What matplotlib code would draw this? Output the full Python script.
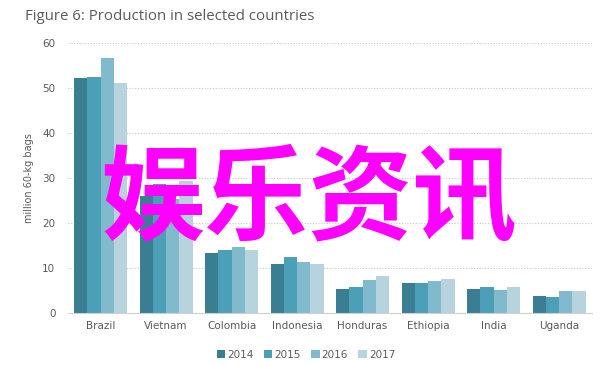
import numpy as np
import matplotlib.pyplot as plt

countries = ["Brazil", "Vietnam", "Colombia", "Indonesia", "Honduras",
             "Ethiopia", "India", "Uganda"]
years = ["2014", "2015", "2016", "2017"]
v2014 = [52.2, 26.0, 13.3, 10.8, 5.3, 6.6, 5.4, 3.7]
v2015 = [52.4, 28.7, 14.0, 12.5, 5.7, 6.7, 5.7, 3.6]
v2016 = [56.7, 25.3, 14.6, 11.4, 7.3, 7.2, 5.1, 4.9]
v2017 = [51.1, 29.2, 14.0, 10.9, 8.2, 7.6, 5.8, 4.9]
series = [v2014, v2015, v2016, v2017]
colors = ["#3a7e94", "#4b9fb6", "#82bacd", "#b6d3de"]

GRAY = "#595959"

fig = plt.figure(figsize=(6.12, 3.66), dpi=100)
ax = fig.add_axes([0.111, 0.145, 0.856, 0.738])

x = np.arange(len(countries))
w = 0.202
for i, (vals, c) in enumerate(zip(series, colors)):
    ax.bar(x + (i - 1.5) * w, vals, width=w, color=c, label=years[i], zorder=2)

ax.set_xlim(-0.5, len(countries) - 0.5)
ax.set_ylim(0, 60)
ax.set_yticks(range(0, 61, 10))
ax.set_xticks(x)
ax.set_xticklabels(countries)
ax.tick_params(axis="both", length=0, labelsize=7.5, colors=GRAY)
ax.tick_params(axis="y", pad=9)
ax.tick_params(axis="x", pad=6)
ax.yaxis.grid(True, linestyle=(0, (1, 1.5)), color="#c8c8c8", linewidth=0.8, zorder=0)
for s in ["top", "right", "left"]:
    ax.spines[s].set_visible(False)
ax.spines["bottom"].set_color("#d0d0d0")
ax.set_ylabel("million 60-kg bags", fontsize=7, color=GRAY, labelpad=6)

fig.text(0.041, 0.955, "Figure 6: Production in selected countries",
         fontsize=10.8, color=GRAY, family="Open Sans", va="center")

fig.legend(loc="lower center", bbox_to_anchor=(0.5, -0.008), ncol=4, frameon=False,
           fontsize=7.5, handlelength=0.8, handleheight=0.8, handletextpad=0.2,
           columnspacing=1.0, labelcolor=GRAY)

fig.text(0.504, 0.45, "娱乐资讯", fontsize=75, color="#ff00ff", fontweight="bold",
         family=["Noto Sans CJK SC", "DejaVu Sans"], ha="center", va="center", zorder=10)

fig.savefig("out.png", dpi=100)
